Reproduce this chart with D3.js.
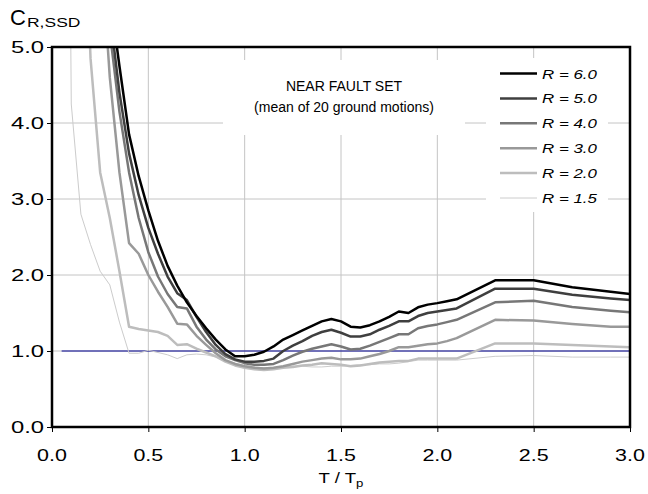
<!DOCTYPE html>
<html><head><meta charset="utf-8">
<script src="https://cdn.jsdelivr.net/npm/d3@7"></script>
<style>body{margin:0;background:#fff}svg{display:block}text{font-family:"Liberation Sans",Arial,sans-serif}</style>
</head><body>
<svg id="chart" width="648" height="494"></svg>
<script>
// ---- data ----
const periods = [0.05,0.10,0.15,0.20,0.25,0.30,0.35,0.40,0.45,0.50,0.55,0.60,0.65,0.70,0.75,0.80,0.85,0.90,0.95,1.00,
  1.05,1.10,1.15,1.20,1.25,1.30,1.35,1.40,1.45,1.50,1.55,1.60,1.65,1.70,1.75,1.80,1.85,1.90,1.95,2.00,2.05,2.10,
  2.30,2.50,2.70,2.90,3.00];
const r60 = [null,null,null,null,7.8,5.7,4.75,3.85,3.3,2.85,2.45,2.12,1.86,1.64,1.46,1.30,1.15,1.02,0.93,0.93,
  0.95,0.99,1.06,1.15,1.21,1.27,1.33,1.39,1.42,1.39,1.32,1.31,1.34,1.39,1.45,1.52,1.50,1.575,1.61,1.63,1.655,1.68,
  1.93,1.93,1.84,1.78,1.75];
const r50 = [null,null,null,null,7.5,5.45,4.4,3.6,3.05,2.62,2.28,1.98,1.76,1.67,1.45,1.25,1.08,0.96,0.89,0.86,
  0.86,0.87,0.90,1.00,1.07,1.13,1.20,1.25,1.28,1.24,1.19,1.19,1.22,1.28,1.33,1.39,1.39,1.46,1.50,1.52,1.54,1.56,
  1.82,1.82,1.74,1.69,1.67];
const r40 = [null,null,null,null,7.0,5.2,4.15,3.35,2.75,2.30,1.98,1.75,1.58,1.56,1.32,1.15,1.02,0.93,0.88,0.84,
  0.82,0.82,0.83,0.88,0.94,0.99,1.03,1.06,1.09,1.06,1.02,1.03,1.07,1.12,1.17,1.22,1.22,1.30,1.33,1.35,1.38,1.41,
  1.64,1.66,1.58,1.53,1.51];
const r30 = [null,null,null,null,6.5,4.6,3.35,2.42,2.28,2.0,1.78,1.58,1.36,1.35,1.20,1.08,0.97,0.88,0.83,0.80,
  0.78,0.77,0.78,0.80,0.83,0.86,0.88,0.90,0.91,0.89,0.89,0.90,0.93,0.96,1.00,1.05,1.05,1.07,1.09,1.10,1.13,1.17,
  1.41,1.40,1.355,1.32,1.32];
const r20 = [null,null,8.0,4.85,3.35,2.75,2.05,1.32,1.29,1.27,1.25,1.20,1.08,1.09,1.03,0.98,0.93,0.86,0.81,0.78,
  0.76,0.75,0.76,0.78,0.79,0.81,0.82,0.84,0.83,0.82,0.80,0.81,0.83,0.85,0.86,0.87,0.87,0.90,0.90,0.90,0.90,0.90,
  1.10,1.10,1.08,1.06,1.05];
const r15 = [20,4.25,2.8,2.4,2.05,1.87,1.38,0.97,0.97,1.01,0.98,0.95,0.90,0.95,0.96,0.95,0.92,0.88,0.84,0.81,
  0.79,0.78,0.78,0.79,0.80,0.80,0.79,0.79,0.80,0.80,0.81,0.82,0.82,0.83,0.83,0.84,0.86,0.88,0.88,0.88,0.88,0.88,
  0.93,0.94,0.92,0.92,0.92];
const seriesNames = ["R = 6.0","R = 5.0","R = 4.0","R = 3.0","R = 2.0","R = 1.5"];
const seriesValues = [r60,r50,r40,r30,r20,r15];
const xTicks = [0,0.5,1,1.5,2,2.5,3];
const yTicks = [0,1,2,3,4,5];
const refLevel = 1.0, refStart = 0.05;

// ---- styles ----
const colors = ["#000000","#3f3f3f","#777777","#999999","#bdbdbd","#cccccc"];
const widths = [2.5,2.5,2.5,2.5,2.5,1];

const svg = d3.select("#chart");
const L=52, R=630, T=47, B=427;
const x = d3.scaleLinear().domain([0,3]).range([L,R]);
const y = d3.scaleLinear().domain([0,5]).range([B,T]);
const fmt = d3.format(".1f");

// grid
svg.append("g").selectAll("line").data(xTicks.slice(1,-1)).join("line")
  .attr("x1",d=>x(d)).attr("x2",d=>x(d)).attr("y1",T).attr("y2",B)
  .attr("stroke","#c4c4c4").attr("stroke-width",1);
svg.append("g").selectAll("line").data(yTicks.slice(1,-1)).join("line")
  .attr("x1",L).attr("x2",R).attr("y1",d=>y(d)).attr("y2",d=>y(d))
  .attr("stroke","#c4c4c4").attr("stroke-width",1);

// white boxes behind annotation & legend
svg.append("rect").attr("x",223).attr("y",60).attr("width",242).attr("height",75).attr("fill","#fff");
svg.append("rect").attr("x",486).attr("y",58).attr("width",122).attr("height",154).attr("fill","#fff");

// clip
svg.append("clipPath").attr("id","clip").append("rect").attr("x",L).attr("y",T).attr("width",R-L).attr("height",B-T);

// reference line
svg.append("line").attr("x1",x(refStart)).attr("x2",x(3)).attr("y1",y(refLevel)).attr("y2",y(refLevel))
  .attr("stroke","#000090").attr("stroke-width",1.2);

const line = d3.line().defined(d=>d[1]!=null).x(d=>x(d[0])).y(d=>y(d[1]));
const g = svg.append("g").attr("clip-path","url(#clip)");
for (let i=seriesValues.length-1;i>=0;i--){
  g.append("path").datum(periods.map((t,j)=>[t,seriesValues[i][j]]))
   .attr("d",line).attr("fill","none").attr("stroke",colors[i]).attr("stroke-width",widths[i])
   .attr("stroke-linejoin","round");
}

// axes (ticks via d3 axes, labels drawn stretched like the original)
const xAxis = svg.append("g").attr("transform",`translate(0,${B})`)
  .call(d3.axisBottom(x).tickValues(xTicks).tickFormat("").tickSize(5));
const yAxis = svg.append("g").attr("transform",`translate(${L},0)`)
  .call(d3.axisLeft(y).tickValues(yTicks).tickFormat("").tickSize(5));
[xAxis,yAxis].forEach(a=>{ a.select(".domain").remove(); a.selectAll("line").attr("stroke","#000"); });

svg.append("g").selectAll("text").data(xTicks).join("text")
  .attr("transform",d=>`translate(${x(d)},461) scale(1.3,1)`)
  .attr("text-anchor","middle").attr("font-size",16.5).attr("fill","#000").text(fmt);
svg.append("g").selectAll("text").data(yTicks).join("text")
  .attr("transform",d=>`translate(44,${y(d)+6}) scale(1.4,1)`)
  .attr("text-anchor","end").attr("font-size",17).attr("fill","#000").text(fmt);

// frame
svg.append("rect").attr("x",L).attr("y",T).attr("width",R-L).attr("height",B-T)
  .attr("fill","none").attr("stroke","#000").attr("stroke-width",2.5);

// titles
svg.append("text").attr("x",10).attr("y",25).attr("font-size",22).attr("fill","#000").text("C");
svg.append("text").attr("transform",`translate(27,27) scale(1.4,1)`).attr("font-size",12.5).attr("fill","#000").text("R,SSD");
const xt = svg.append("text").attr("transform",`translate(${x(1.5)},483) scale(1.2,1)`).attr("text-anchor","middle").attr("fill","#000");
xt.append("tspan").attr("font-size",15.5).text("T / T");
xt.append("tspan").attr("font-size",11).attr("dy",4).text("p");

// annotation
svg.append("text").attr("x",344).attr("y",91).attr("text-anchor","middle").attr("font-size",14).text("NEAR FAULT SET");
svg.append("text").attr("x",344).attr("y",112).attr("text-anchor","middle").attr("font-size",14).text("(mean of 20 ground motions)");

// legend
const lg = svg.append("g");
seriesNames.forEach((n,i)=>{
  const yy = 73.5 + i*24.9;
  lg.append("line").attr("x1",500).attr("x2",537).attr("y1",yy).attr("y2",yy)
    .attr("stroke",colors[i]).attr("stroke-width",widths[i]);
  lg.append("text").attr("transform",`translate(542,${yy+5}) scale(1.3,1)`).attr("font-size",13)
    .attr("font-style","italic").text(n);
});
</script>
</body></html>
